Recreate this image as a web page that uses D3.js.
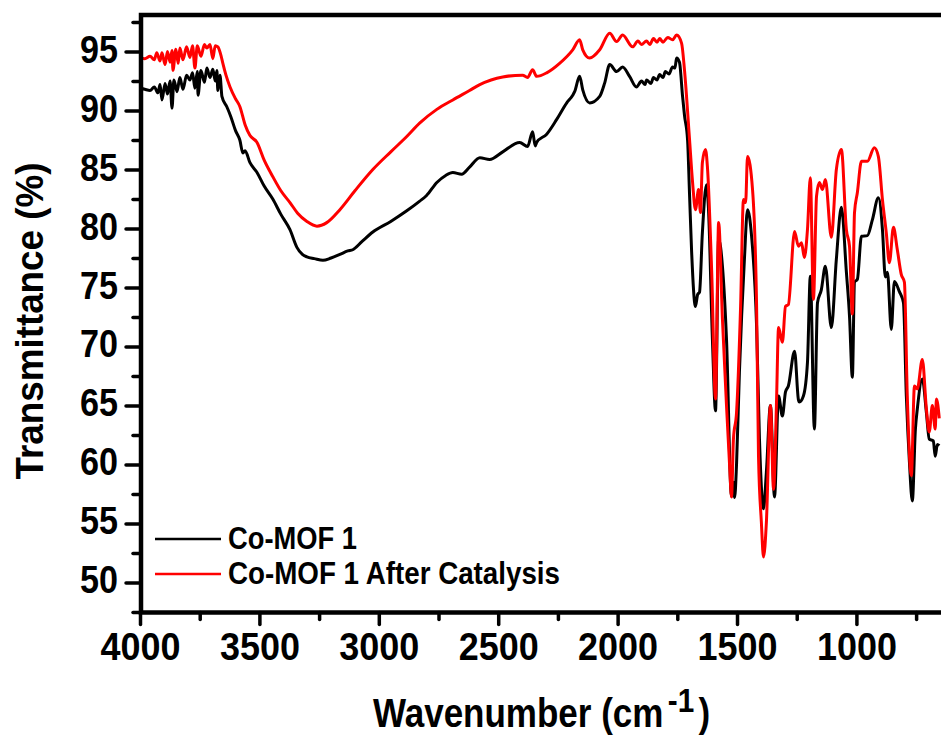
<!DOCTYPE html>
<html>
<head>
<meta charset="utf-8">
<script src="https://cdn.jsdelivr.net/npm/d3@7"></script>
<style>
  html, body { margin: 0; padding: 0; background: #fff; }
  svg text { font-family: "Liberation Sans", Arial, sans-serif; font-weight: bold; fill: #000; }
</style>
</head>
<body>
<svg id="chart" width="941" height="736"></svg>
<script>
// tick values
var xMajor = [4000, 3500, 3000, 2500, 2000, 1500, 1000];
var xMinor = [3750, 3250, 2750, 2250, 1750, 1250, 750];
var yMajor = [50, 55, 60, 65, 70, 75, 80, 85, 90, 95];
var yMinor = [47.5, 52.5, 57.5, 62.5, 67.5, 72.5, 77.5, 82.5, 87.5, 92.5, 97.5];

var seriesNames = ['Co-MOF 1', 'Co-MOF 1 After Catalysis'];

// [wavenumber cm-1, transmittance %]
var coMof1 = [
  [4000, 91.9], [3980, 91.8], [3958, 91.7], [3940, 92.0], [3925, 91.5], [3916, 92.2],
  [3908, 90.9], [3895, 92.3], [3885, 91.4], [3874, 92.5], [3866, 90.2], [3858, 92.6],
  [3845, 91.6], [3833, 92.8], [3820, 91.8], [3805, 93.0], [3791, 92.6], [3780, 93.2],
  [3770, 91.9], [3760, 93.3], [3757, 91.3], [3745, 93.4], [3730, 92.4], [3720, 93.6],
  [3707, 92.8], [3695, 93.5], [3685, 92.5], [3678, 93.4], [3674, 91.7], [3665, 93.0],
  [3657, 91.2], [3636, 90.3], [3620, 89.5], [3600, 88.3], [3582, 87.5], [3569, 86.4],
  [3560, 86.6], [3540, 85.6], [3510, 84.75], [3480, 83.6], [3444, 82.5], [3410, 81.2],
  [3372, 79.9], [3343, 78.4], [3320, 77.8], [3301, 77.6], [3270, 77.45], [3234, 77.3],
  [3200, 77.5], [3163, 77.8], [3130, 78.1], [3109, 78.2], [3070, 78.9], [3025, 79.7],
  [2950, 80.6], [2883, 81.5], [2830, 82.3], [2800, 82.8], [2757, 83.9], [2720, 84.5],
  [2690, 84.75], [2653, 84.6], [2620, 85.2], [2577, 86.0], [2536, 85.85], [2481, 86.5],
  [2410, 87.3], [2377, 86.95], [2356, 88.2], [2345, 87.0], [2339, 87.3], [2297, 88.0],
  [2255, 89.25], [2213, 90.65], [2188, 91.3], [2180, 91.6], [2159, 92.9], [2146, 91.75],
  [2117, 90.65], [2075, 91.2], [2054, 92.35], [2033, 93.9], [2004, 93.3], [1979, 93.7],
  [1950, 92.9], [1921, 92.0], [1900, 92.5], [1885, 92.2], [1879, 92.6], [1860, 92.3],
  [1850, 92.8], [1835, 92.6], [1824, 93.05], [1810, 92.8], [1800, 93.3], [1785, 93.1],
  [1770, 93.7], [1760, 93.6], [1753, 94.45], [1741, 94.1], [1728, 91.2], [1720, 89.6],
  [1707, 87.5], [1699, 83.0], [1690, 78.0], [1674, 73.4], [1665, 74.4], [1657, 74.6],
  [1645, 79.65], [1628, 83.7], [1620, 81.9], [1603, 70.6], [1590, 64.55], [1577, 79.1],
  [1561, 76.8], [1544, 70.6], [1523, 57.3], [1515, 58.5], [1510, 57.2], [1502, 60.0],
  [1490, 67.8], [1469, 77.4], [1456, 81.6], [1439, 79.35], [1418, 71.7], [1406, 62.15],
  [1389, 56.25], [1377, 59.35], [1360, 65.0], [1343, 57.25], [1326, 65.8], [1310, 64.1],
  [1297, 66.15], [1285, 66.65], [1259, 69.6], [1243, 65.5], [1239, 65.3], [1222, 65.8],
  [1205, 68.65], [1193, 75.95], [1176, 63.0], [1163, 73.7], [1147, 74.8], [1130, 76.8],
  [1105, 71.6], [1084, 77.4], [1063, 81.8], [1042, 76.3], [1029, 72.6], [1017, 67.4],
  [1008, 75.45], [996, 75.7], [979, 79.35], [954, 79.4], [933, 80.75], [908, 82.6],
  [891, 79.9], [879, 75.9], [870, 76.3], [854, 71.45], [841, 75.5], [820, 74.65],
  [803, 73.7], [791, 65.8], [778, 60.2], [766, 56.9], [753, 63.0], [745, 64.7],
  [724, 67.25], [707, 64.4], [695, 62.15], [678, 62.0], [670, 60.7], [661, 61.7], [653, 61.6]
];

var coMof1After = [
  [4000, 94.5], [3980, 94.4], [3958, 94.6], [3940, 94.3], [3930, 94.9], [3916, 94.2],
  [3908, 94.9], [3895, 93.9], [3885, 95.0], [3874, 94.1], [3866, 95.1], [3862, 93.4],
  [3850, 95.2], [3840, 94.0], [3833, 95.3], [3820, 94.3], [3805, 95.4], [3791, 94.5],
  [3780, 95.5], [3770, 93.6], [3760, 95.5], [3745, 94.6], [3730, 95.6], [3720, 95.3],
  [3707, 95.6], [3695, 94.4], [3685, 95.5], [3674, 95.4], [3660, 94.6], [3653, 94.0],
  [3640, 93.0], [3623, 92.0], [3600, 91.0], [3582, 90.35], [3560, 88.8], [3540, 87.9],
  [3510, 87.3], [3480, 85.8], [3444, 84.4], [3410, 83.2], [3372, 82.2], [3340, 81.3],
  [3301, 80.6], [3259, 80.2], [3218, 80.5], [3163, 81.6], [3100, 83.2], [3025, 85.0],
  [2950, 86.5], [2883, 87.8], [2828, 88.95], [2757, 90.1], [2690, 90.9], [2620, 91.7],
  [2577, 92.2], [2481, 92.85], [2398, 93.0], [2377, 92.8], [2356, 93.45], [2339, 92.9],
  [2297, 93.2], [2243, 94.0], [2188, 95.15], [2159, 96.0], [2146, 95.15], [2117, 94.45],
  [2075, 95.15], [2033, 96.55], [2004, 95.85], [1979, 96.4], [1937, 95.4], [1915, 95.9],
  [1900, 95.6], [1879, 95.9], [1865, 95.6], [1850, 96.1], [1835, 95.8], [1824, 96.1],
  [1810, 95.8], [1790, 96.2], [1770, 96.0], [1753, 96.4], [1732, 95.7], [1720, 93.45],
  [1699, 87.6], [1686, 83.9], [1674, 81.6], [1661, 83.3], [1653, 81.35], [1645, 85.6],
  [1632, 86.7], [1624, 85.25], [1606, 76.3], [1590, 65.55], [1577, 80.5], [1561, 72.3],
  [1544, 65.0], [1531, 59.9], [1523, 57.25], [1515, 62.15], [1502, 64.4], [1485, 73.4],
  [1473, 82.45], [1464, 82.2], [1456, 86.1], [1435, 83.3], [1418, 73.4], [1410, 60.7],
  [1398, 55.1], [1389, 52.15], [1377, 55.1], [1360, 65.0], [1347, 57.9], [1335, 65.0],
  [1326, 71.6], [1310, 70.35], [1297, 73.4], [1285, 73.55], [1259, 79.75], [1243, 78.5],
  [1230, 78.8], [1218, 77.55], [1205, 79.9], [1193, 84.3], [1180, 74.0], [1167, 82.75],
  [1155, 83.9], [1142, 83.3], [1130, 84.15], [1105, 79.25], [1084, 85.0], [1063, 86.7],
  [1042, 79.9], [1029, 78.5], [1017, 72.75], [1008, 81.35], [996, 83.05], [979, 85.7],
  [954, 85.7], [925, 86.85], [908, 86.1], [891, 82.45], [875, 79.65], [862, 77.1],
  [845, 80.1], [829, 78.25], [812, 76.1], [799, 75.45], [787, 65.8], [770, 59.05],
  [757, 66.65], [745, 66.4], [724, 68.9], [707, 64.7], [695, 62.75], [682, 65.0],
  [670, 63.0], [665, 65.55], [653, 63.9]
];

(function() {
  var svg = d3.select('#chart');
  var left = 141, right = 940, top = 15, bottom = 612.5;

  var x = d3.scaleLinear().domain([4000, 650]).range([140, 940]);
  var y = d3.scaleLinear().domain([47.45, 98.1]).range([bottom, top]);

  svg.append('clipPath').attr('id', 'plot-clip')
    .append('rect')
      .attr('x', left).attr('y', top)
      .attr('width', right - left + 2).attr('height', bottom - top);

  var line = d3.line()
      .x(function(d) { return x(d[0]); })
      .y(function(d) { return y(d[1]); })
      .curve(d3.curveMonotoneX);

  var plot = svg.append('g').attr('clip-path', 'url(#plot-clip)');
  plot.append('path').datum(coMof1)
      .attr('d', line).attr('fill', 'none')
      .attr('stroke', '#000').attr('stroke-width', 3)
      .attr('stroke-linejoin', 'round');
  plot.append('path').datum(coMof1After)
      .attr('d', line).attr('fill', 'none')
      .attr('stroke', '#ff0000').attr('stroke-width', 3)
      .attr('stroke-linejoin', 'round');

  // axes: ticks only, frame drawn separately
  function styleAxis(g) {
    g.select('.domain').remove();
    g.selectAll('.tick line')
      .attr('stroke', '#000').attr('stroke-width', 3.5)
      .attr('stroke-linecap', 'round');
  }

  svg.append('g')
      .attr('transform', 'translate(0,' + bottom + ')')
      .call(d3.axisBottom(x).tickValues(xMinor).tickSize(7).tickFormat(''))
      .call(styleAxis);
  var xAxis = svg.append('g')
      .attr('transform', 'translate(0,' + bottom + ')')
      .call(d3.axisBottom(x).tickValues(xMajor).tickSize(12).tickFormat(d3.format('d')))
      .call(styleAxis);
  xAxis.selectAll('.tick text')
      .attr('font-size', 38).attr('dy', 0).attr('y', 47)
      .attr('textLength', 80).attr('lengthAdjust', 'spacingAndGlyphs');

  svg.append('g')
      .attr('transform', 'translate(' + left + ',0)')
      .call(d3.axisLeft(y).tickValues(yMinor).tickSize(8).tickFormat(''))
      .call(styleAxis);
  var yAxis = svg.append('g')
      .attr('transform', 'translate(' + left + ',0)')
      .call(d3.axisLeft(y).tickValues(yMajor).tickSize(15).tickFormat(d3.format('d')))
      .call(styleAxis);
  yAxis.selectAll('.tick text')
      .attr('font-size', 38).attr('x', -23).attr('dy', 0).attr('y', 10.5)
      .attr('textLength', 38).attr('lengthAdjust', 'spacingAndGlyphs');

  // frame
  svg.append('path')
      .attr('d', 'M' + (right + 5) + ',' + top + 'H' + left + 'V' + bottom + 'H' + (right + 5))
      .attr('fill', 'none').attr('stroke', '#000').attr('stroke-width', 4.5);

  // titles
  svg.append('text')
      .attr('transform', 'translate(43,321) rotate(-90)')
      .attr('text-anchor', 'middle').attr('font-size', 39)
      .attr('textLength', 317).attr('lengthAdjust', 'spacingAndGlyphs')
      .text('Transmittance (%)');

  // x title squeezed horizontally like the original
  var xTitle = svg.append('g').attr('transform', 'translate(373,727) scale(0.875,1)');
  xTitle.append('text').attr('x', 0).attr('y', 0).attr('font-size', 40)
      .text('Wavenumber (cm');
  xTitle.append('text').attr('x', 337).attr('y', -15).attr('font-size', 34)
      .text('-1');
  xTitle.append('text').attr('x', 372).attr('y', 0).attr('font-size', 40)
      .text(')');

  // legend
  var legendColors = ['#000', '#ff0000'];
  var legendWidths = [129, 332];
  var legend = svg.append('g').selectAll('g')
      .data(seriesNames)
      .enter().append('g')
      .attr('transform', function(d, i) { return 'translate(0,' + (539 + i * 35) + ')'; });
  legend.append('line')
      .attr('x1', 155).attr('x2', 221).attr('y1', 0).attr('y2', 0)
      .attr('stroke', function(d, i) { return legendColors[i]; })
      .attr('stroke-width', 2.6);
  legend.append('text')
      .attr('x', 228).attr('y', 10).attr('font-size', 32)
      .attr('textLength', function(d, i) { return legendWidths[i]; })
      .attr('lengthAdjust', 'spacingAndGlyphs')
      .text(function(d) { return d; });
})();
</script>
</body>
</html>
